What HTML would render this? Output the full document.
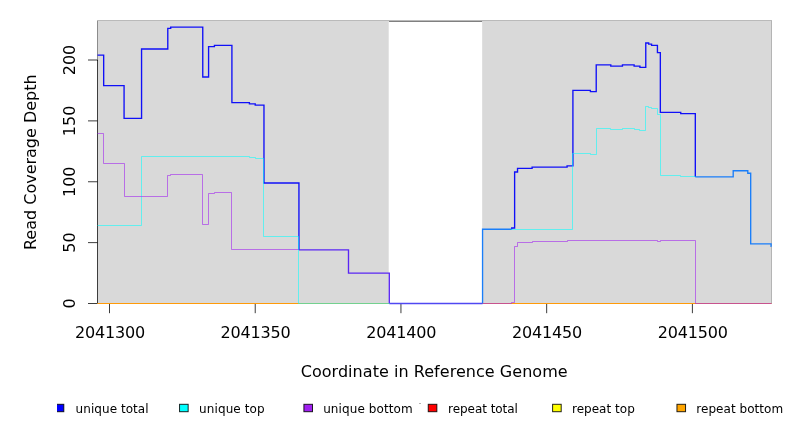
<!DOCTYPE html>
<html><head><meta charset="utf-8"><title>Read Coverage Depth</title>
<style>
html,body{margin:0;padding:0;background:#fff;}
svg{display:block;font-family:"DejaVu Sans", "Liberation Sans", sans-serif;}
</style></head><body>
<svg width="792" height="432" viewBox="0 0 792 432">
<rect x="0" y="0" width="792" height="432" fill="#ffffff"/>

<rect x="97" y="20" width="675" height="1" fill="#bababa"/>
<rect x="97" y="21" width="1" height="40" fill="#8c8c8c"/>
<rect x="771" y="21" width="1" height="283" fill="#b4b4b4"/>
<rect x="388.79" y="21" width="93.76" height="1" fill="#808080"/>
<rect x="98" y="21" width="290.69" height="283" fill="#d9d9d9"/>
<rect x="482.16" y="21" width="288.84" height="283" fill="#d9d9d9"/>
<g fill="none" stroke="#000" stroke-width="1" stroke-opacity="0.76">
<path d="M97.5 60.00V303.50M97.5 303.50H88M97.5 242.62H88M97.5 181.75H88M97.5 120.88H88M97.5 60.00H88M109.50 303.5H692.40M109.50 303.5V313.2M255.22 303.5V313.2M400.95 303.5V313.2M546.67 303.5V313.2M692.40 303.5V313.2"/>
</g>
<g fill="none" stroke-linejoin="miter" stroke-linecap="butt">
<path d="M97.5 303.5H771.5" stroke="#ff9a08" stroke-width="1"/>
<path d="M97.50 55.13H103.67V85.57H124.07V118.44H141.56V49.04H167.79V28.34H170.70V27.13H202.76V77.04H208.59V46.61H214.42V45.39H231.91V102.61H249.40V103.83H255.22V105.05H263.97V182.97H298.94V249.93M511.70 229.23V228.01H514.62V172.01H517.53V168.36H532.10V167.14H567.08V165.92H572.91V90.44H590.39V91.66H596.22V64.87H610.79V66.09H622.45V64.87H634.11V66.09H639.94V67.31H645.77V42.95H648.68V44.17H651.60V45.39H657.43V52.69H660.34V112.35H680.74V113.57H695.31V176.88" stroke="#1010f8" stroke-width="1.35"/>
<path d="M298.94 249.93H348.49V273.06H389.29V303.50" stroke="#5a26f4" stroke-width="1.35"/>
<path d="M389.29 303.50H482.56" stroke="#5048f2" stroke-width="1.35"/>
<path d="M482.56 303.50V229.23H511.70M695.31 176.88H733.20V170.79H747.78V173.23H750.69V243.84H771.09V246.28H771.50" stroke="#1a7ef9" stroke-width="1.35"/>
<path d="M97.50 225.50H141.50V156.50H249.50V157.50H255.50V158.50H263.50V236.50H298.50V303.50H389.50M511.50 229.50H572.50V153.50H590.50V154.50H596.50V128.50H610.50V129.50H622.50V128.50H634.50V129.50H639.50V130.50H645.50V106.50H648.50V107.50H651.50V108.50H657.50V114.50H660.50V175.50H680.50V176.50H695.50" stroke="#00ffff" stroke-opacity="0.55" stroke-width="1"/>
<path d="M97.50 133.50H103.50V163.50H124.50V196.50H167.50V175.50H170.50V174.50H202.50V224.50H208.50V193.50H214.50V192.50H231.50V249.50H298.50M482.50 303.50H511.50V302.50H514.50V246.50H517.50V242.50H532.50V241.50H567.50V240.50H657.50V241.50H660.50V240.50H695.50V303.50H771.50" stroke="#a020f0" stroke-opacity="0.58" stroke-width="1"/>
</g>
<g fill="#000" font-size="16px">
<text x="109.90" y="338" text-anchor="middle" letter-spacing="-0.18">2041300</text>
<text x="255.62" y="338" text-anchor="middle" letter-spacing="-0.18">2041350</text>
<text x="401.35" y="338" text-anchor="middle" letter-spacing="-0.18">2041400</text>
<text x="547.07" y="338" text-anchor="middle" letter-spacing="-0.18">2041450</text>
<text x="692.80" y="338" text-anchor="middle" letter-spacing="-0.18">2041500</text>
<text transform="translate(74.6 303.50) rotate(-90)" text-anchor="middle">0</text>
<text transform="translate(74.6 242.62) rotate(-90)" text-anchor="middle">50</text>
<text transform="translate(74.6 181.75) rotate(-90)" text-anchor="middle">100</text>
<text transform="translate(74.6 120.88) rotate(-90)" text-anchor="middle">150</text>
<text transform="translate(74.6 60.00) rotate(-90)" text-anchor="middle">200</text>
<text x="434.2" y="377" text-anchor="middle" letter-spacing="0.04">Coordinate in Reference Genome</text>
<text transform="translate(35.7 162.2) rotate(-90)" text-anchor="middle">Read Coverage Depth</text>
</g>
<g font-size="12px" fill="#000">
<clipPath id="lc"><rect x="57" y="395" width="735" height="30"/></clipPath><g clip-path="url(#lc)">
<rect x="55.20" y="404.3" width="8.6" height="7.4" fill="#0000ff" stroke="#000" stroke-width="1" stroke-opacity="0.85"/>
<text x="75.60" y="412.5" letter-spacing="0.055">unique total</text>
<rect x="179.55" y="404.3" width="8.6" height="7.4" fill="#00ffff" stroke="#000" stroke-width="1" stroke-opacity="0.85"/>
<text x="199.05" y="412.5" letter-spacing="0.110">unique top</text>
<rect x="303.90" y="404.3" width="8.6" height="7.4" fill="#a020f0" stroke="#000" stroke-width="1" stroke-opacity="0.85"/>
<text x="323.15" y="412.5" letter-spacing="0.100">unique bottom</text>
<rect x="428.25" y="404.3" width="8.6" height="7.4" fill="#ff0000" stroke="#000" stroke-width="1" stroke-opacity="0.85"/>
<text x="448.10" y="412.5" letter-spacing="-0.050">repeat total</text>
<rect x="552.60" y="404.3" width="8.6" height="7.4" fill="#ffff00" stroke="#000" stroke-width="1" stroke-opacity="0.85"/>
<text x="572.00" y="412.5" letter-spacing="0.017">repeat top</text>
<rect x="676.95" y="404.3" width="8.6" height="7.4" fill="#ffa500" stroke="#000" stroke-width="1" stroke-opacity="0.85"/>
<text x="696.35" y="412.5" letter-spacing="0.034">repeat bottom</text>
</g><rect x="419" y="403" width="2" height="1" fill="#b4b4b4"/></g>
</svg></body></html>
